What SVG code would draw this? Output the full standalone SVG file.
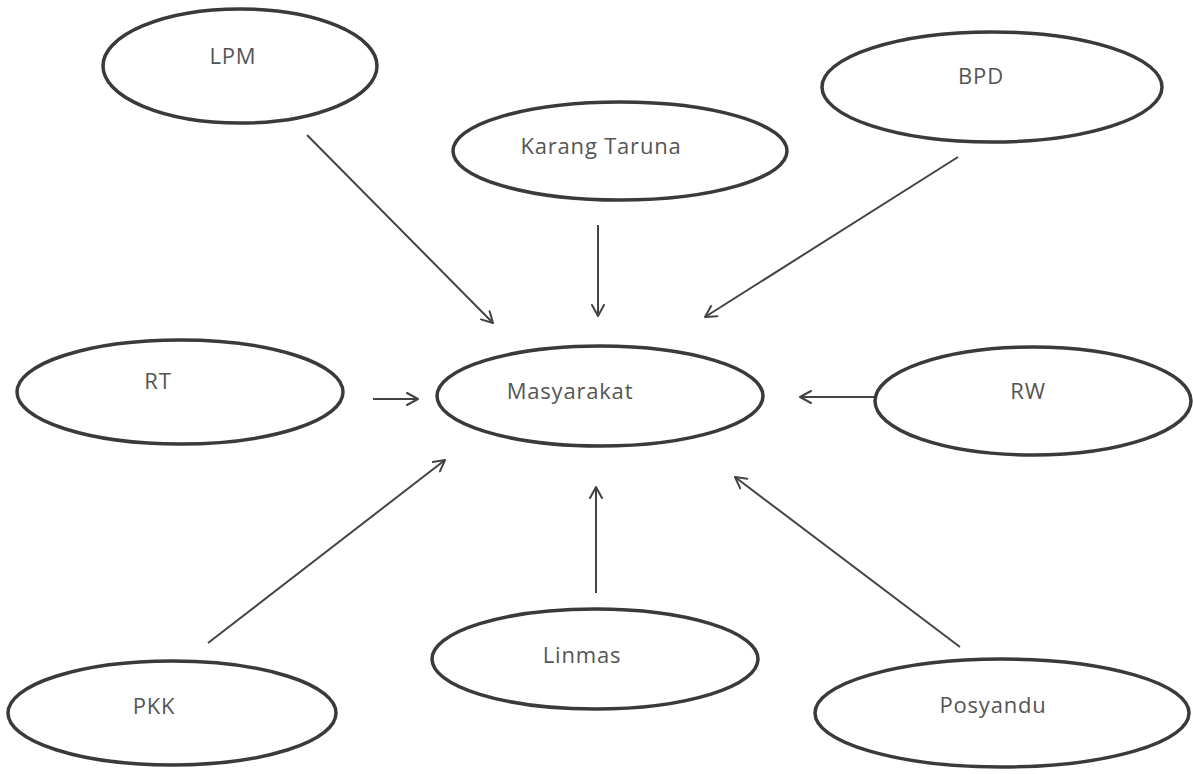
<svg xmlns="http://www.w3.org/2000/svg" width="1193" height="774" viewBox="0 0 1193 774">
  <style>
    .node ellipse { fill: #ffffff; stroke: #3a3a3a; stroke-width: 3.5; }
    .node text { font-family: "Open Sans", "Liberation Sans", sans-serif; font-size: 22px; letter-spacing: 0.8px; fill: #555555; text-anchor: middle; }
    .edges line { stroke: #444444; stroke-width: 2; marker-end: url(#arrow); }
  </style>
  <defs>
    <marker id="arrow" viewBox="0 0 14 14" refX="12" refY="7" markerWidth="14" markerHeight="14" markerUnits="userSpaceOnUse" orient="auto">
      <path d="M1,1 L12,7 L1,13" fill="none" stroke="#444444" stroke-width="2" stroke-linecap="round" stroke-linejoin="round"/>
    </marker>
  </defs>
  <rect width="1193" height="774" fill="#ffffff"/>

  <g class="edges">
    <line x1="307" y1="135" x2="493" y2="323"/>
    <line x1="598" y1="225" x2="598" y2="316"/>
    <line x1="958" y1="157" x2="705" y2="317"/>
    <line x1="373" y1="399" x2="418" y2="399"/>
    <line x1="875" y1="397" x2="800" y2="397"/>
    <line x1="208" y1="643" x2="445" y2="460"/>
    <line x1="596" y1="593" x2="596" y2="487"/>
    <line x1="960" y1="647" x2="735" y2="477"/>
  </g>

  <g id="node-lpm" class="node">
    <ellipse cx="240" cy="66" rx="137" ry="57"/>
    <text x="233" y="64">LPM</text>
  </g>
  <g id="node-karang-taruna" class="node">
    <ellipse cx="620" cy="151" rx="167" ry="49"/>
    <text x="601" y="154">Karang Taruna</text>
  </g>
  <g id="node-bpd" class="node">
    <ellipse cx="992" cy="87" rx="170" ry="55"/>
    <text x="981" y="84">BPD</text>
  </g>
  <g id="node-rt" class="node">
    <ellipse cx="180" cy="392" rx="163" ry="52"/>
    <text x="158" y="389">RT</text>
  </g>
  <g id="node-masyarakat" class="node">
    <ellipse cx="600" cy="396" rx="163" ry="50"/>
    <text x="570" y="399">Masyarakat</text>
  </g>
  <g id="node-rw" class="node">
    <ellipse cx="1033" cy="401" rx="158" ry="54"/>
    <text x="1028" y="399">RW</text>
  </g>
  <g id="node-pkk" class="node">
    <ellipse cx="172" cy="713" rx="164" ry="52"/>
    <text x="154" y="714">PKK</text>
  </g>
  <g id="node-linmas" class="node">
    <ellipse cx="595" cy="659" rx="163" ry="50"/>
    <text x="582" y="663">Linmas</text>
  </g>
  <g id="node-posyandu" class="node">
    <ellipse cx="1002" cy="713" rx="187" ry="54"/>
    <text x="993" y="713">Posyandu</text>
  </g>
</svg>
